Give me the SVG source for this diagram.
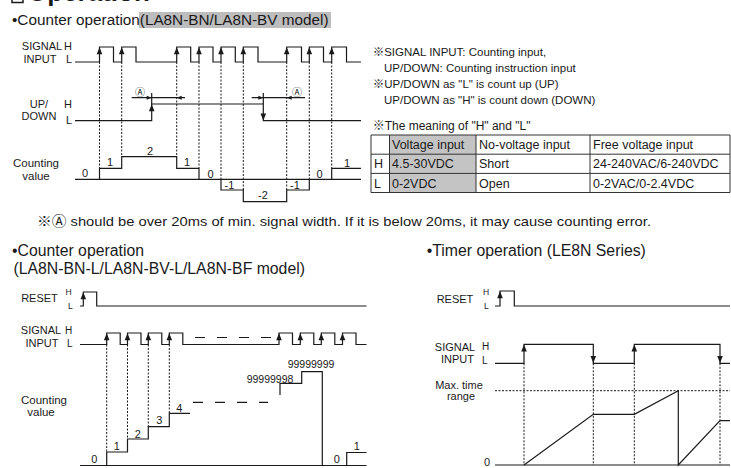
<svg xmlns="http://www.w3.org/2000/svg" xmlns:xlink="http://www.w3.org/1999/xlink" width="731" height="468" viewBox="0 0 731 468">
<style>
text{font-family:"Liberation Sans",Arial,"Noto Sans CJK JP",sans-serif;fill:#1a1a1a}
.ttl{font-size:15.3px}
.ttl2{font-size:15.8px}
.lb{font-size:11px}
.sm{font-size:8.5px}
.num{font-size:11px;text-anchor:middle}
.mid{text-anchor:middle}
.nt{font-size:11.5px}
.tb{font-size:12.5px}
.cjk{font-family:"Noto Sans CJK JP",sans-serif;font-size:10px;text-anchor:middle}
.ln{fill:none;stroke:#1a1a1a;stroke-width:1.2}
.dot{fill:none;stroke:#1a1a1a;stroke-width:1;stroke-dasharray:2 1.5}
.dsh{fill:none;stroke:#1a1a1a;stroke-width:1.2;stroke-dasharray:10 12}
.tl{fill:none;stroke:#333;stroke-width:1}
.ah{fill:#1a1a1a}
</style>
<defs>
<path id="au" class="ah" d="M0,0 L-2.8,7 L2.8,7 Z"/>
<path id="ad" class="ah" d="M0,0 L-2.8,-7 L2.8,-7 Z"/>
<path id="ar" class="ah" d="M0,0 L-5,-2 L-5,2 Z"/>
<path id="al" class="ah" d="M0,0 L5,-2 L5,2 Z"/>
</defs>

<g id="heading">
<rect x="12" y="-12" width="11" height="14.5" fill="none" stroke="#1a1a1a" stroke-width="1.5"/>
<text x="27" y="1" style="font-size:26px;font-weight:bold">Operation</text>
</g>

<g id="chart1">
<rect x="139" y="12" width="192" height="16" fill="#bdbdbd"/>
<text class="ttl" x="12" y="25">•Counter operation(LA8N-BN/LA8N-BV model)</text>
<g id="c1-labels" class="lb">
<text x="42" y="50" class="mid">SIGNAL</text>
<text x="40" y="62.5" class="mid">INPUT</text>
<text x="64" y="50">H</text>
<text x="66" y="63">L</text>
<text x="39" y="108" class="mid">UP/</text>
<text x="39" y="120" class="mid">DOWN</text>
<text x="64" y="108">H</text>
<text x="66" y="124">L</text>
<text x="36" y="166.5" class="mid" style="font-size:11.5px">Counting</text>
<text x="36" y="179.5" class="mid" style="font-size:11.5px">value</text>
</g>
<g id="c1-connectors">
<path class="ln" d="M75,62 H99.5 V47 H113.5 V62 H121.7 V47 H136 V62 H176.7 V47 H190.7 V62 H199 V47 H213 V62 H221 V47 H235.3 V62 H243.3 V47 H258 V62 H286.7 V47 H301.5 V62 H309.3 V47 H323.5 V62 H331.7 V47 H346.5 V62 H361"/>
<use xlink:href="#au" x="99.5" y="47.3"/>
<use xlink:href="#au" x="121.7" y="47.3"/>
<use xlink:href="#au" x="176.7" y="47.3"/>
<use xlink:href="#au" x="199" y="47.3"/>
<use xlink:href="#au" x="221" y="47.3"/>
<use xlink:href="#au" x="243.3" y="47.3"/>
<use xlink:href="#au" x="286.7" y="47.3"/>
<use xlink:href="#au" x="309.3" y="47.3"/>
<use xlink:href="#au" x="331.7" y="47.3"/>
<path class="dot" d="M99.5,62 V168.3 M121.7,62 V156.7 M176.7,62 V156.7 M199,62 V168.3 M221,62 V179.3 M243.3,62 V190 M286.7,62 V190 M309.3,62 V179.3 M331.7,62 V168.3"/>
<path class="ln" d="M75,120.7 H151.7 V104 H263.3 V120.7 H361"/>
<path class="ln" d="M151.7,104 V93 M263.3,104 V93" stroke-width="1"/>
<use xlink:href="#au" x="151.7" y="104.3"/>
<use xlink:href="#ad" x="263.3" y="120.4"/>
<path class="ln" stroke-width="1" d="M131.7,97.7 H185 M251.7,97.7 H305"/>
<use xlink:href="#ar" x="151.7" y="97.7"/>
<use xlink:href="#al" x="176.7" y="97.7"/>
<use xlink:href="#ar" x="263.3" y="97.7"/>
<use xlink:href="#al" x="286.7" y="97.7"/>
<path class="ln" d="M75,179.3 H361"/>
<path class="ln" d="M99.5,179.3 V168.3 H121.7 V156.7 H176.7 V168.3 H199 V179.3 M221,179.3 V190 H243.3 V201.7 H286.7 V190 H309.3 V179.3 M331.7,179.3 V168.3 H361"/>
</g>
<text class="cjk" x="140" y="96">Ⓐ</text>
<text class="cjk" x="297" y="96">Ⓐ</text>
<g id="c1-values" class="num">
<text x="85" y="177">0</text>
<text x="110" y="166">1</text>
<text x="150" y="155">2</text>
<text x="187" y="166">1</text>
<text x="210.5" y="177.5">0</text>
<text x="229.5" y="189">-1</text>
<text x="263" y="199">-2</text>
<text x="295" y="189">-1</text>
<text x="319.5" y="177.5">0</text>
<text x="347" y="167">1</text>
</g>
</g>

<g id="notes">
<text class="nt" x="372.7" y="56">※SIGNAL INPUT: Counting input,</text>
<text class="nt" x="384" y="72">UP/DOWN: Counting instruction input</text>
<text class="nt" x="372.7" y="88">※UP/DOWN as "L" is count up (UP)</text>
<text class="nt" x="384" y="104">UP/DOWN as "H" is count down (DOWN)</text>
<text class="nt" x="372.7" y="129.5" style="font-size:12px">※The meaning of "H" and "L"</text>
</g>

<g id="table">
<rect x="389.5" y="135" width="86.5" height="57.5" fill="#c4c4c4"/>
<path class="tl" d="M371,135 H730 M371,154.2 H730 M371,173.4 H730 M371,192.5 H730 M371,135 V192.5 M389.5,135 V192.5 M476,135 V192.5 M590,135 V192.5 M730,135 V192.5"/>
<g class="tb">
<text x="392" y="149">Voltage input</text>
<text x="479" y="149">No-voltage input</text>
<text x="593" y="149">Free voltage input</text>
<text x="374" y="168.3">H</text>
<text x="392" y="168.3">4.5-30VDC</text>
<text x="479" y="168.3">Short</text>
<text x="593" y="168.3">24-240VAC/6-240VDC</text>
<text x="374" y="187.5">L</text>
<text x="392" y="187.5">0-2VDC</text>
<text x="479" y="187.5">Open</text>
<text x="593" y="187.5">0-2VAC/0-2.4VDC</text>
</g>
</g>

<g id="footnote">
<text x="37" y="226" style="font-size:13.5px" textLength="614" lengthAdjust="spacingAndGlyphs">※Ⓐ should be over 20ms of min. signal width. If it is below 20ms, it may cause counting error.</text>
</g>

<g id="chart2">
<text class="ttl2" x="12" y="256">•Counter operation</text>
<text class="ttl2" x="13.5" y="273.5">(LA8N-BN-L/LA8N-BV-L/LA8N-BF model)</text>
<g class="lb">
<text x="39.5" y="302" class="mid">RESET</text>
<text x="41" y="334" class="mid">SIGNAL</text>
<text x="42" y="347" class="mid">INPUT</text>
<text x="65" y="334" style="font-size:10px">H</text>
<text x="67" y="347" style="font-size:10px">L</text>
<text x="44" y="404" class="mid" style="font-size:11.5px">Counting</text>
<text x="41" y="415.5" class="mid" style="font-size:11.5px">value</text>
</g>
<text class="sm" x="65.5" y="295">H</text>
<text class="sm" x="68" y="309">L</text>
<g id="c2-connectors">
<path class="ln" d="M80,306 H83.3 V292 H96.7 V306 H366.5"/>
<use xlink:href="#au" x="83.3" y="292.3"/>
<path class="ln" d="M80,344.5 H106.7 V333 H120.2 V344.5 H127.5 V333 H141 V344.5 H148.3 V333 H161.8 V344.5 H169.3 V333 H182.8 V344.5 H279 V333 H292.5 V344.5 H300.3 V333 H313.8 V344.5 H321.3 V333 H334.8 V344.5 H342.5 V333 H356 V344.5 H366.5"/>
<path class="dsh" d="M195,337.5 H271"/>
<use xlink:href="#au" x="106.7" y="333.3"/>
<use xlink:href="#au" x="127.5" y="333.3"/>
<use xlink:href="#au" x="148.3" y="333.3"/>
<use xlink:href="#au" x="169.3" y="333.3"/>
<use xlink:href="#au" x="279" y="333.3"/>
<use xlink:href="#au" x="300.3" y="333.3"/>
<use xlink:href="#au" x="321.3" y="333.3"/>
<use xlink:href="#au" x="342.5" y="333.3"/>
<path class="dot" d="M106.7,344.5 V452 M127.5,344.5 V439 M148.3,344.5 V426.7 M169.3,344.5 V413.3"/>
<path class="ln" d="M80,465.5 H366.5"/>
<path class="ln" d="M106.7,465.5 V452 H127.5 V439 H148.3 V426.7 H169.3 V413.3 H190"/>
<path class="dsh" d="M193,402.3 H268"/>
<path class="ln" d="M280,395 V383.3 H301.7 V371.7 H322.3 V465.5"/>
<path class="ln" d="M346.7,465.5 V452.5 H366.5"/>
</g>
<g class="num">
<text x="94.3" y="462.5">0</text>
<text x="116.7" y="450">1</text>
<text x="137.7" y="437.5">2</text>
<text x="159.3" y="424">3</text>
<text x="179.3" y="411.5">4</text>
<text x="336.7" y="462.5">0</text>
<text x="356.7" y="450">1</text>
</g>
<text x="270" y="382.5" class="mid" style="font-size:10.5px">99999998</text>
<text x="311" y="368" class="mid" style="font-size:10.5px">99999999</text>
</g>

<g id="chart3">
<text class="ttl2" x="426.7" y="256">•Timer operation (LE8N Series)</text>
<g class="lb">
<text x="455" y="302.5" class="mid">RESET</text>
<text x="455" y="350.5" class="mid">SIGNAL</text>
<text x="457.5" y="362.5" class="mid">INPUT</text>
<text x="482" y="350" style="font-size:10px">H</text>
<text x="482" y="364" style="font-size:10px">L</text>
<text x="459" y="388.5" class="mid">Max. time</text>
<text x="461" y="400" class="mid">range</text>
<text x="487" y="466" class="mid">0</text>
</g>
<text class="sm" x="483" y="295">H</text>
<text class="sm" x="484" y="309">L</text>
<g id="c3-connectors">
<path class="ln" d="M495,306 H500 V291 H514.3 V306 H730"/>
<use xlink:href="#au" x="500" y="291.3"/>
<path class="ln" d="M495,363.3 H524 V344.3 H593.3 V363.3 H634.3 V344.3 H720 V363.3 H730"/>
<use xlink:href="#au" x="524" y="344.6"/>
<use xlink:href="#ad" x="593.3" y="363"/>
<use xlink:href="#au" x="634.3" y="344.6"/>
<use xlink:href="#ad" x="720" y="363"/>
<path class="dot" stroke-dasharray="3 2" d="M524,363.3 V465 M593.3,363.3 V465 M634.3,363.3 V465 M720,363.3 V465 M495,390.7 H730"/>
<path class="ln" d="M495,465 H730"/>
<path class="ln" d="M524,465 L593.3,414.3 H634.3 L678.3,390.7 V465 L720,420.7 H730"/>
</g>
</g>
</svg>
